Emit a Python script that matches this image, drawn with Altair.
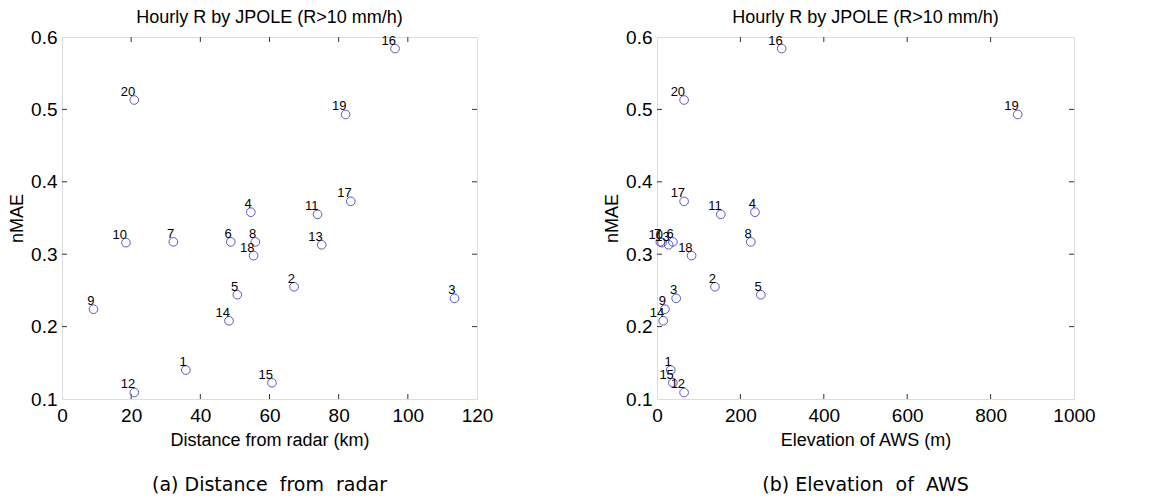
import altair as alt
import pandas as pd

# ---- data ----
stations = [str(i) for i in range(1, 21)]
distance_km = [35.8, 67.1, 113.5, 54.6, 50.7, 48.8, 32.2, 55.9, 9.1, 18.5,
               73.9, 20.9, 75.1, 48.3, 60.7, 96.3, 83.5, 55.4, 82.0, 20.9]
elevation_m = [33, 139, 46, 235, 249, 38, 8, 225, 19, 12,
               153, 65, 28, 15, 38, 299, 65, 83, 865, 65]
nmae = [0.140, 0.255, 0.239, 0.358, 0.244, 0.317, 0.317, 0.317, 0.224, 0.316,
        0.355, 0.109, 0.313, 0.208, 0.1225, 0.584, 0.373, 0.298, 0.493, 0.513]

x_ticks_dist = [0, 20, 40, 60, 80, 100, 120]
x_ticks_elev = [0, 200, 400, 600, 800, 1000]
y_ticks = [0.1, 0.2, 0.3, 0.4, 0.5, 0.6]

panel_title = "Hourly R by JPOLE (R>10 mm/h)"
x_titles = ["Distance from radar (km)", "Elevation of AWS (m)"]
captions = ["(a)\u00a0Distance\u00a0\u00a0from\u00a0\u00a0radar",
            "(b)\u00a0Elevation\u00a0\u00a0of\u00a0\u00a0AWS"]
y_title = "nMAE"

FONT = "Liberation Sans"
CIRCLE = "#4646c4"
H = 362


def panel(xvals, xdomain, xticks, xtitle, caption, w, h):
    df = pd.DataFrame({"station": stations, "x": xvals, "nMAE": nmae})
    xs = alt.Scale(domain=xdomain, nice=False, zero=False)
    ys = alt.Scale(domain=[0.1, 0.6], nice=False, zero=False)
    xaxis = alt.Axis(values=xticks, format="d", title=xtitle, grid=False, ticks=False,
                     domain=False, labelFont=FONT, labelFontSize=19, labelColor="black",
                     labelPadding=7, labelFlush=False, labelOverlap=False,
                     titleFont=FONT, titleFontSize=18, titleFontWeight="normal",
                     titleColor="black", titlePadding=6)
    yaxis = alt.Axis(values=y_ticks, format=".1f", title=y_title, grid=False, ticks=False,
                     domain=False, labelFont=FONT, labelFontSize=19, labelColor="black",
                     labelPadding=5, labelFlush=False, labelOverlap=False,
                     titleFont=FONT, titleFontSize=18, titleFontWeight="normal",
                     titleColor="black", titlePadding=4)
    X = alt.X("x:Q", scale=xs, axis=xaxis)
    Y = alt.Y("nMAE:Q", scale=ys, axis=yaxis)

    pts = alt.Chart(df).mark_point(shape="circle", filled=False, size=75,
                                   color=CIRCLE, strokeWidth=0.9, opacity=1).encode(x=X, y=Y)
    lbl = alt.Chart(df).mark_text(align="right", baseline="alphabetic", dx=1, dy=-4,
                                  font=FONT, fontSize=13, color="black").encode(
        x=X, y=Y, text="station:N")

    xt = pd.DataFrame({"x": xticks[1:-1]})
    yt = pd.DataFrame({"nMAE": y_ticks[1:-1]})
    tick_col = "#333333"
    tb = alt.Chart(xt).mark_rule(color=tick_col, strokeWidth=1).encode(
        x=X, y=alt.value(h), y2=alt.value(h - 5))
    tt = alt.Chart(xt).mark_rule(color=tick_col, strokeWidth=1).encode(
        x=X, y=alt.value(0), y2=alt.value(5))
    tl = alt.Chart(yt).mark_rule(color=tick_col, strokeWidth=1).encode(
        y=Y, x=alt.value(0), x2=alt.value(5))
    tr = alt.Chart(yt).mark_rule(color=tick_col, strokeWidth=1).encode(
        y=Y, x=alt.value(w), x2=alt.value(w - 5))

    cap = alt.Chart(pd.DataFrame({"caption": [caption]})).mark_text(
        font="DejaVu Sans", fontSize=19, color="black", baseline="middle", align="center"
    ).encode(text="caption:N", x=alt.value(w / 2), y=alt.value(h + 86))

    return alt.layer(tb, tt, tl, tr, pts, lbl, cap).properties(
        width=w, height=h,
        title=alt.Title(panel_title, font=FONT, fontSize=18, fontWeight="normal",
                        color="black", anchor="middle", frame="group", offset=1),
    )


left = panel(distance_km, [0, 120], x_ticks_dist, x_titles[0], captions[0], 415, H)
right = panel(elevation_m, [0, 1000], x_ticks_elev, x_titles[1], captions[1], 417, H)

chart = alt.hconcat(left, right, spacing=109).properties(
    padding={"left": 0, "top": 0, "right": 0, "bottom": 0}
).configure_view(stroke="#333333", strokeWidth=1).configure(background="white")

chart.save("out.html", embed_options={"renderer": "svg", "actions": False})
